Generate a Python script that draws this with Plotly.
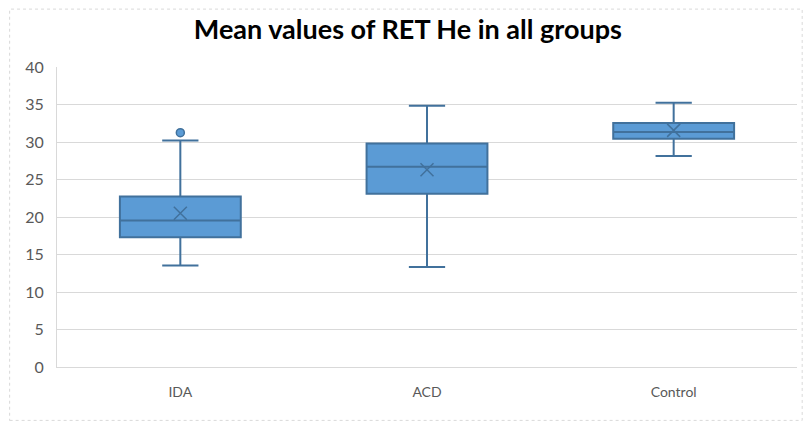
import plotly.graph_objects as go

# values
groups = ["IDA", "ACD", "Control"]
lower_whisker = [13.55, 13.35, 28.15]
q1 = [17.3, 23.1, 30.45]
median = [19.55, 26.7, 31.35]
q3 = [22.75, 29.8, 32.55]
upper_whisker = [30.2, 34.85, 35.25]
means = [20.5, 26.3, 31.55]
outlier_groups = ["IDA"]
outlier_values = [31.25]

FILL = "#5B9BD5"
EDGE = "#41719C"

fig = go.Figure()

fig.add_trace(go.Box(
    x=groups,
    q1=q1,
    median=median,
    q3=q3,
    lowerfence=lower_whisker,
    upperfence=upper_whisker,
    fillcolor=FILL,
    line=dict(color=EDGE, width=2),
    whiskerwidth=0.3,
    boxpoints=False,
    showlegend=False,
    hoverinfo="skip",
))

# mean markers (Excel style X)
fig.add_trace(go.Scatter(
    x=groups,
    y=means,
    mode="markers",
    marker=dict(symbol="x-thin-open", size=13, color=EDGE,
                line=dict(color=EDGE, width=1.5)),
    showlegend=False,
))

# outliers
fig.add_trace(go.Scatter(
    x=outlier_groups,
    y=outlier_values,
    mode="markers",
    marker=dict(symbol="circle", size=8, color=FILL, line=dict(color=EDGE, width=1.5)),
    showlegend=False,
))

# page body keeps an 8px margin, so the figure is about 795x413
fig.update_layout(
    autosize=True,
    margin=dict(l=49, r=6, t=59, b=54),
    paper_bgcolor="white",
    plot_bgcolor="white",
    boxgap=0.51,
    boxgroupgap=0,
    title=dict(
        text="<b>Mean values of RET He in all groups</b>",
        x=0.503,
        xanchor="center",
        y=0.947,
        yanchor="middle",
        font=dict(family="Lato, Open Sans, sans-serif", size=27, color="black"),
    ),
    font=dict(family="Lato, Open Sans, sans-serif", size=14, color="#595959"),
    xaxis=dict(
        showgrid=False,
        showline=True,
        linecolor="#D9D9D9",
        linewidth=1,
        ticks="",
        ticklabelstandoff=12,
        tickfont=dict(size=14, color="#595959"),
    ),
    yaxis=dict(
        range=[0, 40],
        dtick=5,
        showgrid=True,
        gridcolor="#D9D9D9",
        gridwidth=1,
        zeroline=False,
        showline=True,
        linecolor="#D9D9D9",
        ticks="",
        ticklen=0,
        ticklabelstandoff=9,
        tickfont=dict(size=16, color="#595959"),
    ),
    shapes=[dict(
        type="rect", xref="paper", yref="paper",
        x0=-0.064, x1=1.007, y0=-0.178, y1=1.193,
        line=dict(color="#D9D9D9", width=1, dash="dot"),
    )],
)

fig.write_html("out.html", default_width="100%", default_height="100%")
